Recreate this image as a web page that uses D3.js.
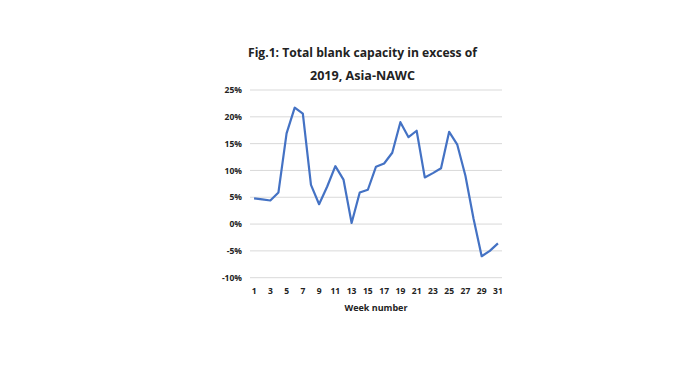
<!DOCTYPE html>
<html>
<head>
<meta charset="utf-8">
<script src="https://cdn.jsdelivr.net/npm/d3@7"></script>
<style>
  body { margin: 0; background: #fff; }
  text { font-family: "Open Sans", "Liberation Sans", sans-serif; fill: #222; }
</style>
</head>
<body>
<div id="chart"></div>
<script>
// week numbers and blank capacity vs 2019 (%)
const weeks = d3.range(1, 32);
const excess = [4.8, 4.6, 4.4, 5.9, 16.9, 21.7, 20.6, 7.3, 3.7, 7.0,
  10.8, 8.3, 0.2, 5.9, 6.4, 10.7, 11.3, 13.3, 19.0, 16.2,
  17.4, 8.7, 9.5, 10.4, 17.2, 14.8, 9.0, 1.0, -6.0, -5.0, -3.6];
const yTicks = [-10, -5, 0, 5, 10, 15, 20, 25];
const xTickLabels = weeks.filter(w => w % 2 === 1);
const titleLines = ["Fig.1: Total blank capacity in excess of", "2019, Asia-NAWC"];

const width = 700, height = 366;
const svg = d3.select('#chart').append('svg')
  .attr('width', width)
  .attr('height', height);

const x = d3.scaleBand()
  .domain(weeks)
  .range([250, 502]);

const y = d3.scaleLinear()
  .domain([-10, 25])
  .range([277.7, 90]);

// gridlines
svg.append('g')
  .selectAll('line')
  .data(yTicks)
  .enter().append('line')
  .attr('x1', 250)
  .attr('x2', 502)
  .attr('y1', d => y(d))
  .attr('y2', d => y(d))
  .attr('stroke', '#d9d9d9')
  .attr('stroke-width', 1);

// y axis labels
const yAxis = d3.axisLeft(y)
  .tickValues(yTicks)
  .tickSize(0)
  .tickPadding(0)
  .tickFormat(d => d + '%');
svg.append('g')
  .attr('transform', 'translate(242,0)')
  .call(yAxis)
  .call(g => g.select('.domain').remove())
  .selectAll('text')
  .attr('font-size', 8.5)
  .attr('font-weight', 700)
  .attr('font-family', '"Open Sans", sans-serif')
  .attr('fill', '#222');

// x axis labels
const xAxis = d3.axisBottom(x)
  .tickValues(xTickLabels)
  .tickSize(0)
  .tickPadding(0);
svg.append('g')
  .attr('transform', 'translate(0,288)')
  .call(xAxis)
  .call(g => g.select('.domain').remove())
  .selectAll('text')
  .attr('font-size', 8.5)
  .attr('font-weight', 700)
  .attr('font-family', '"Open Sans", sans-serif')
  .attr('fill', '#222');

svg.append('text')
  .attr('x', 376)
  .attr('y', 311)
  .attr('text-anchor', 'middle')
  .attr('font-size', 9)
  .attr('font-weight', 700)
  .text('Week number');

// line
const line = d3.line()
  .x((d, i) => x(weeks[i]) + x.bandwidth() / 2)
  .y(d => y(d));

svg.append('path')
  .datum(excess)
  .attr('fill', 'none')
  .attr('stroke', '#4472c4')
  .attr('stroke-width', 2.2)
  .attr('stroke-linejoin', 'round')
  .attr('d', line);

// title
svg.append('g')
  .selectAll('text')
  .data(titleLines)
  .enter().append('text')
  .attr('x', 362.5)
  .attr('y', (d, i) => 57 + i * 23)
  .attr('text-anchor', 'middle')
  .attr('font-size', 13)
  .attr('font-weight', 700)
  .attr('textLength', (d, i) => i === 0 ? 229 : 105)
  .attr('lengthAdjust', 'spacingAndGlyphs')
  .text(d => d);
</script>
</body>
</html>
